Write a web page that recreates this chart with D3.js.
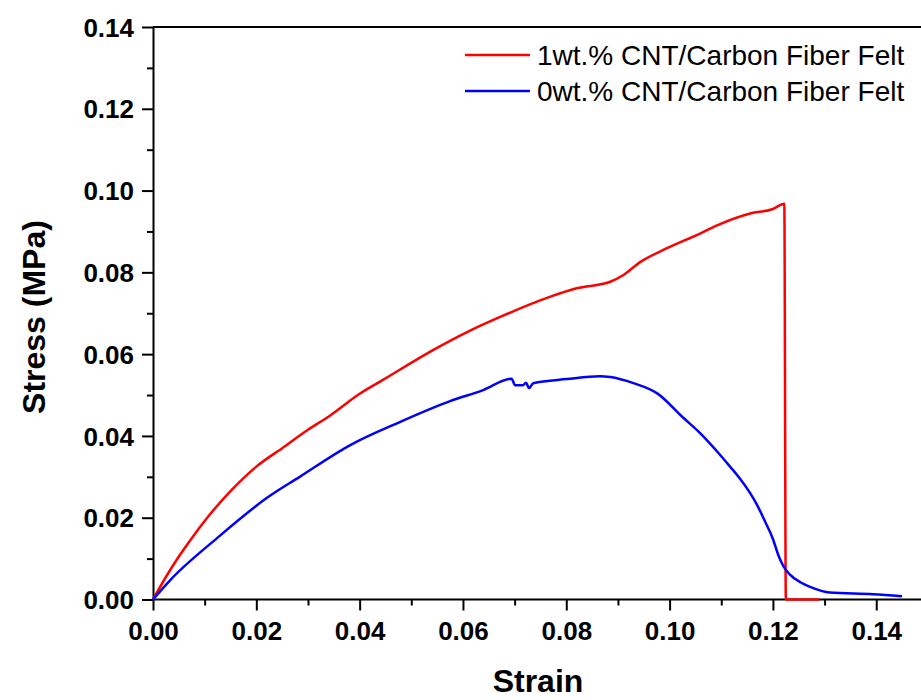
<!DOCTYPE html>
<html>
<head>
<meta charset="utf-8">
<script src="https://cdn.jsdelivr.net/npm/d3@7"></script>
<style>
  body { margin: 0; background: #fff; }
  svg { display: block; font-family: Arial, "Liberation Sans", sans-serif; }
</style>
</head>
<body>
<div id="chart"></div>
<script>
// stress-strain curves, [strain, stress MPa]
var cntFelt = [
  [0, 0], [0.0025, 0.0055], [0.005, 0.0105], [0.0075, 0.015], [0.01, 0.0192],
  [0.015, 0.0265], [0.02, 0.0325], [0.025, 0.037], [0.03, 0.0415], [0.0343, 0.045],
  [0.04, 0.0503], [0.0445, 0.0537], [0.0542, 0.061], [0.0608, 0.0654], [0.0672, 0.0691],
  [0.0768, 0.074], [0.082, 0.0761], [0.0885, 0.0777], [0.091, 0.0793], [0.0943, 0.0825],
  [0.0995, 0.0859], [0.1059, 0.0895], [0.1092, 0.0915], [0.1156, 0.0944], [0.12, 0.0955],
  [0.1222, 0.0968], [0.1225, 0], [0.129, 0]
];
var plainFelt = [
  [0, 0], [0.0033, 0.0047], [0.0124, 0.015], [0.022, 0.0248], [0.0284, 0.03],
  [0.0381, 0.0377], [0.0478, 0.0434], [0.0575, 0.0485], [0.0639, 0.0512], [0.0694, 0.054],
  [0.0701, 0.0524], [0.0716, 0.0524], [0.0722, 0.053], [0.0728, 0.0517], [0.0736, 0.0529],
  [0.0801, 0.0539], [0.0865, 0.0546], [0.0885, 0.0544], [0.093, 0.0529], [0.0976, 0.0504],
  [0.1026, 0.0445], [0.1059, 0.0407], [0.1092, 0.0362], [0.1115, 0.0328], [0.1136, 0.0296],
  [0.1155, 0.0262], [0.1169, 0.0232], [0.1185, 0.019], [0.12, 0.0148], [0.121, 0.011],
  [0.122, 0.0082], [0.1232, 0.0062], [0.1255, 0.0041], [0.1272, 0.0031], [0.131, 0.0017],
  [0.1394, 0.0013], [0.145, 0.0008]
];
var seriesNames = ["1wt.% CNT/Carbon Fiber Felt", "0wt.% CNT/Carbon Fiber Felt"];
var seriesColors = ["#ff0000", "#0000ff"];
var xTicks = [0, 0.02, 0.04, 0.06, 0.08, 0.10, 0.12, 0.14];
var yTicks = [0, 0.02, 0.04, 0.06, 0.08, 0.10, 0.12, 0.14];

var chartW = 921, chartH = 700;
var plotLeft = 153, plotTop = 27, plotBottom = 599.5;

var x = d3.scaleLinear().domain([0, 0.15]).range([plotLeft, plotLeft + 0.15 * 5166]);
var y = d3.scaleLinear().domain([0, 0.14]).range([plotBottom, plotTop]);

var svg = d3.select("#chart").append("svg")
    .attr("width", chartW)
    .attr("height", chartH);

// top frame line
svg.append("line")
    .attr("x1", plotLeft).attr("x2", chartW)
    .attr("y1", plotTop).attr("y2", plotTop)
    .style("stroke", "#000").style("stroke-width", 2);

// minor ticks
var xMinor = d3.range(1, 15, 2).map(function (d) { return d / 100; });
var yMinor = d3.range(1, 14, 2).map(function (d) { return d / 100; });

svg.append("g")
    .attr("transform", "translate(0," + plotBottom + ")")
    .call(d3.axisBottom(x).tickValues(xMinor).tickSize(6).tickFormat(""))
    .call(function (g) { g.select(".domain").remove(); })
    .selectAll("line").style("stroke-width", 2);

svg.append("g")
    .attr("transform", "translate(" + plotLeft + ",0)")
    .call(d3.axisLeft(y).tickValues(yMinor).tickSize(6).tickFormat(""))
    .call(function (g) { g.select(".domain").remove(); })
    .selectAll("line").style("stroke-width", 2);

// major axes
var xAxis = svg.append("g")
    .attr("transform", "translate(0," + plotBottom + ")")
    .call(d3.axisBottom(x).tickValues(xTicks).tickSize(11).tickSizeOuter(0)
        .tickFormat(d3.format(".2f")));
xAxis.select(".domain").attr("d", "M" + plotLeft + ",0H" + chartW).style("stroke-width", 2);
xAxis.selectAll(".tick line").style("stroke-width", 2);
xAxis.selectAll(".tick text")
    .attr("y", 22)
    .attr("dy", "0.71em")
    .style("font-size", "26px")
    .style("font-weight", "bold")
    .style("fill", "#000");

var yAxis = svg.append("g")
    .attr("transform", "translate(" + plotLeft + ",0)")
    .call(d3.axisLeft(y).tickValues(yTicks).tickSize(11).tickSizeOuter(0)
        .tickFormat(d3.format(".2f")));
yAxis.select(".domain").style("stroke-width", 2);
yAxis.selectAll(".tick line").style("stroke-width", 2);
yAxis.selectAll(".tick text")
    .attr("x", -19)
    .attr("dy", "0.35em")
    .style("font-size", "26px")
    .style("font-weight", "bold")
    .style("fill", "#000");

// curves
var line = d3.line()
    .curve(d3.curveMonotoneX)
    .x(function (d) { return x(d[0]); })
    .y(function (d) { return y(d[1]); });

[cntFelt, plainFelt].forEach(function (data, i) {
    svg.append("path")
        .datum(data)
        .attr("d", line)
        .style("fill", "none")
        .style("stroke", seriesColors[i])
        .style("stroke-width", 2.5)
        .style("stroke-linejoin", "round");
});

// legend
var legend = svg.selectAll(".legend")
    .data(seriesNames)
    .enter()
    .append("g")
    .attr("transform", function (d, i) { return "translate(465," + (65 + i * 36) + ")"; });

legend.append("line")
    .attr("x1", 0).attr("x2", 65)
    .attr("y1", -10).attr("y2", -10)
    .style("stroke", function (d, i) { return seriesColors[i]; })
    .style("stroke-width", 2.5);

legend.append("text")
    .attr("x", 72)
    .style("font-size", "28px")
    .style("fill", "#000")
    .text(function (d) { return d; });

// axis titles
svg.append("text")
    .attr("x", 538).attr("y", 692)
    .attr("text-anchor", "middle")
    .style("font-size", "32px")
    .style("font-weight", "bold")
    .text("Strain");

svg.append("text")
    .attr("transform", "translate(45,317) rotate(-90)")
    .attr("text-anchor", "middle")
    .style("font-size", "32px")
    .style("font-weight", "bold")
    .text("Stress (MPa)");
</script>
</body>
</html>
